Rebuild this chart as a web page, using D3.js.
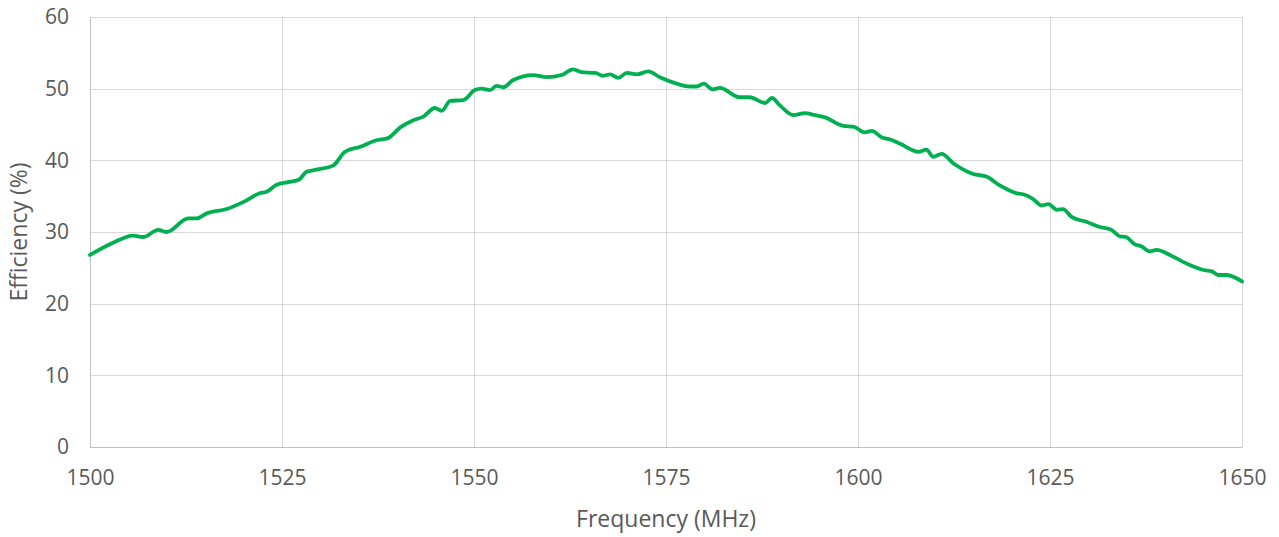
<!DOCTYPE html>
<html>
<head>
<meta charset="utf-8">
<script src="https://cdn.jsdelivr.net/npm/d3@7"></script>
<style>
  body { margin: 0; background: #fff; }
  text { font-family: "Open Sans", "Noto Sans", sans-serif; fill: #595959; }
</style>
</head>
<body>
<script>
// data
var freqs = [1500, 1503, 1505.6, 1506.9, 1508.9, 1510, 1512.8, 1513.9, 1515.2, 1517.8,
  1520, 1522.1, 1523, 1524.3, 1526, 1527.2, 1528.2, 1529.5, 1531.7, 1533.2,
  1535.2, 1537.3, 1538.8, 1540.4, 1542.1, 1543.4, 1544.9, 1545.8, 1546.9, 1548.6,
  1550.1, 1551, 1552.1, 1552.9, 1553.8, 1555.1, 1557.7, 1559.5, 1561.4, 1562.9,
  1564, 1565.8, 1566.8, 1567.7, 1568.8, 1569.9, 1571.2, 1572.7, 1574.2, 1576.4,
  1578.1, 1579, 1579.9, 1581.1, 1582, 1584.6, 1585.9, 1587.9, 1588.8, 1589.8,
  1591.6, 1593.1, 1594.4, 1595.7, 1598.1, 1599.4, 1600.9, 1601.8, 1603.1, 1604.2,
  1605.5, 1607.9, 1608.9, 1609.8, 1610.9, 1612.4, 1615, 1616.8, 1618.3, 1620.7,
  1621.7, 1622.8, 1623.9, 1624.8, 1625.9, 1626.7, 1627.8, 1629.8, 1631.5, 1633,
  1634.1, 1634.9, 1636, 1636.9, 1638, 1638.9, 1640.6, 1642.2, 1643.2, 1645,
  1646.1, 1646.9, 1648, 1650];
var efficiency = [26.8, 28.5, 29.5, 29.3, 30.3, 30.0, 31.9, 31.9, 32.6, 33.2,
  34.2, 35.4, 35.6, 36.6, 37.0, 37.3, 38.4, 38.7, 39.3, 41.2,
  41.9, 42.8, 43.1, 44.6, 45.6, 46.1, 47.3, 46.9, 48.3, 48.4,
  49.8, 50.0, 49.8, 50.4, 50.2, 51.2, 51.9, 51.6, 51.9, 52.7,
  52.3, 52.2, 51.8, 52.0, 51.5, 52.2, 52.0, 52.4, 51.6, 50.7,
  50.3, 50.3, 50.7, 49.9, 50.1, 48.8, 48.8, 48.0, 48.7, 47.7,
  46.3, 46.6, 46.3, 46.0, 44.8, 44.7, 43.9, 44.1, 43.2, 42.9,
  42.3, 41.2, 41.5, 40.5, 40.9, 39.6, 38.1, 37.7, 36.6, 35.4,
  35.2, 34.6, 33.7, 33.9, 33.1, 33.2, 32.1, 31.4, 30.7, 30.3,
  29.4, 29.3, 28.3, 28.0, 27.3, 27.5, 26.8, 25.9, 25.4, 24.7,
  24.5, 24.0, 24.0, 23.1];
var xTicks = [1500, 1525, 1550, 1575, 1600, 1625, 1650];
var yTicks = [0, 10, 20, 30, 40, 50, 60];

var width = 1279;
var height = 537;
var plotLeft = 90, plotRight = 1242, plotTop = 17, plotBottom = 447;

var svg = d3.select("body")
            .append("svg")
            .attr("width", width)
            .attr("height", height);

var x = d3.scaleLinear().domain([1500, 1650]).range([plotLeft, plotRight]);
var y = d3.scaleLinear().domain([0, 60]).range([plotBottom, plotTop]);

// gridlines
svg.append("g")
   .selectAll("line")
   .data(yTicks)
   .join("line")
   .attr("x1", plotLeft)
   .attr("x2", plotRight)
   .attr("y1", function(d) { return Math.round(y(d)) + 0.5; })
   .attr("y2", function(d) { return Math.round(y(d)) + 0.5; })
   .attr("stroke", "#d9d9d9")
   .attr("stroke-width", 1);

svg.append("g")
   .selectAll("line")
   .data(xTicks)
   .join("line")
   .attr("x1", function(d) { return Math.round(x(d)) + 0.5; })
   .attr("x2", function(d) { return Math.round(x(d)) + 0.5; })
   .attr("y1", plotTop)
   .attr("y2", plotBottom)
   .attr("stroke", "#d9d9d9")
   .attr("stroke-width", 1);

// axes, labels only
var xAxis = svg.append("g")
   .attr("transform", "translate(0," + plotBottom + ")")
   .call(d3.axisBottom(x).tickValues(xTicks).tickSize(0).tickPadding(23).tickFormat(d3.format("d")));
xAxis.select(".domain").attr("stroke", "#bfbfbf");
xAxis.selectAll("text").style("font-size", "21px").attr("fill", "#595959");

var yAxis = svg.append("g")
   .attr("transform", "translate(" + plotLeft + ",0)")
   .call(d3.axisLeft(y).tickValues(yTicks).tickSize(0).tickPadding(21));
yAxis.select(".domain").attr("stroke", "#bfbfbf");
yAxis.selectAll("text").style("font-size", "21px").attr("fill", "#595959");

// axis titles
svg.append("text")
   .attr("x", 666)
   .attr("y", 527)
   .attr("text-anchor", "middle")
   .style("font-size", "23px")
   .text("Frequency (MHz)");

svg.append("text")
   .attr("transform", "translate(27," + ((plotTop + plotBottom) / 2) + ") rotate(-90)")
   .attr("text-anchor", "middle")
   .style("font-size", "23px")
   .text("Efficiency (%)");

// the curve
var line = d3.line()
   .x(function(d, i) { return x(freqs[i]); })
   .y(function(d) { return y(d); })
   .curve(d3.curveMonotoneX);

svg.append("path")
   .datum(efficiency)
   .attr("d", line)
   .attr("fill", "none")
   .attr("stroke", "#00b050")
   .attr("stroke-width", 3.8)
   .attr("stroke-linejoin", "round")
   .attr("stroke-linecap", "round");
</script>
</body>
</html>
